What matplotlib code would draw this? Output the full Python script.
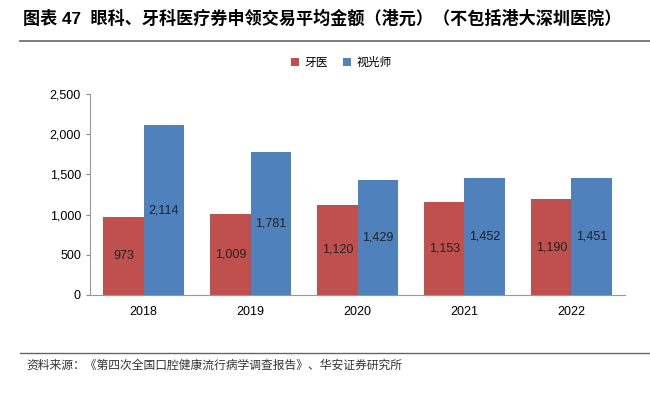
import numpy as np
import matplotlib
matplotlib.use("Agg")
import matplotlib.pyplot as plt

plt.rcParams["font.family"] = ["Liberation Sans", "Noto Sans CJK SC", "DejaVu Sans"]

years = ["2018", "2019", "2020", "2021", "2022"]
dentist = [973, 1009, 1120, 1153, 1190]
optometrist = [2114, 1781, 1429, 1452, 1451]
series_names = ["牙医", "视光师"]

RED = "#C0504D"
BLUE = "#4F81BD"

fig = plt.figure(figsize=(6.5, 3.93), dpi=100)
ax = fig.add_axes([0.1385, 0.2494, 0.823, 0.5114])

x = np.arange(len(years))
w = 0.375
b1 = ax.bar(x - w / 2, dentist, w, color=RED, label=series_names[0])
b2 = ax.bar(x + w / 2, optometrist, w, color=BLUE, label=series_names[1])

for bars, vals in ((b1, dentist), (b2, optometrist)):
    for r, v in zip(bars, vals):
        ax.text(r.get_x() + r.get_width() / 2, v / 2, f"{v:,}",
                ha="center", va="center", fontsize=9, color="#222222")

ax.set_xlim(-0.5, len(years) - 0.5)
ax.set_ylim(0, 2500)
ax.set_yticks(range(0, 2501, 500))
ax.set_yticklabels([f"{v:,}" for v in range(0, 2501, 500)])
ax.set_xticks(x)
ax.set_xticklabels(years)
ax.tick_params(axis="both", labelsize=9, colors="#888888", labelcolor="black", length=3)
ax.tick_params(axis="x", length=0, pad=8)
for s in ("top", "right"):
    ax.spines[s].set_visible(False)
for s in ("left", "bottom"):
    ax.spines[s].set_color("#999999")

leg = ax.legend(loc="center", bbox_to_anchor=(0.47, 1.155), ncol=2, frameon=False,
                handlelength=0.7, handleheight=0.7, handletextpad=0.5,
                columnspacing=1.2, prop={"family": ["Noto Sans CJK SC"], "size": 8.5})

fig.text(0.035, 0.955, "图表 47  眼科、牙科医疗券申领交易平均金额（港元）（不包括港大深圳医院）",
         fontsize=12.3, fontweight="bold", va="center",
         family=["Liberation Sans", "Noto Sans CJK SC"])
fig.add_artist(plt.Line2D([0.03, 1.0], [0.895, 0.895], color="#666666", lw=1.2))
fig.add_artist(plt.Line2D([0.03, 1.0], [0.101, 0.101], color="#666666", lw=1.0))
fig.text(0.04, 0.07, "资料来源：《第四次全国口腔健康流行病学调查报告》、华安证券研究所",
         fontsize=8.5, va="center", color="#333333", family=["Noto Sans CJK SC"])

fig.savefig("out.png", dpi=100)
